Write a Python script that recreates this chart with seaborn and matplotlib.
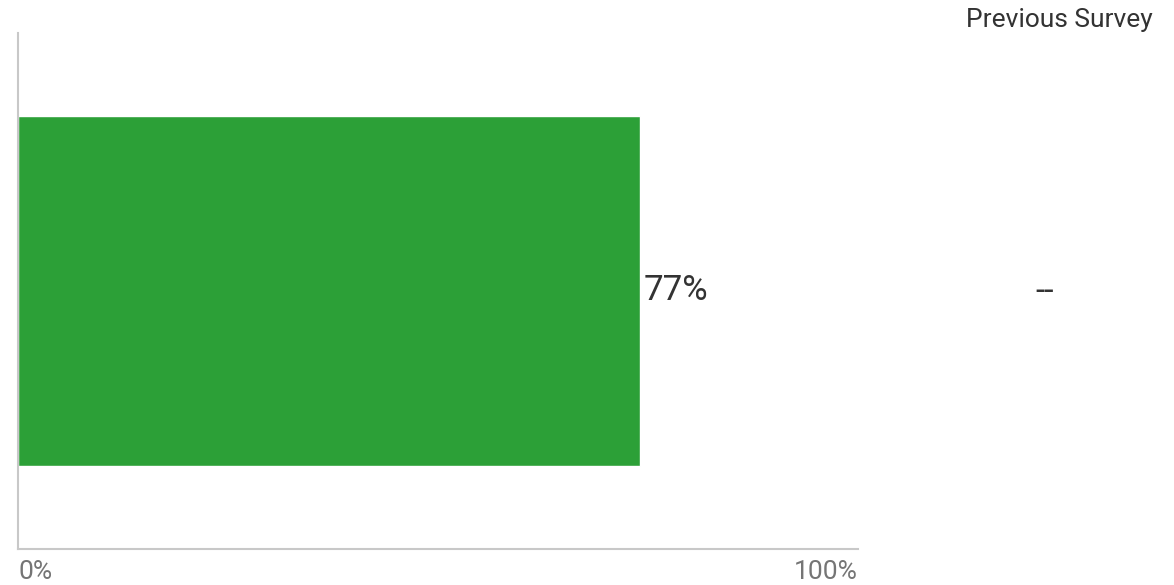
import matplotlib
matplotlib.use("Agg")
import matplotlib.pyplot as plt
import seaborn as sns
import pandas as pd

categories = ["Current Survey"]
values = [77]
value_labels = ["77%"]
previous_labels = ["--"]
tick_labels = ["0%", "100%"]

sns.set_style("white")
plt.rcParams["font.family"] = ["Roboto", "DejaVu Sans"]

df = pd.DataFrame({"category": categories, "value": values})

fig = plt.figure(figsize=(11.74, 5.85), dpi=100)
ax = fig.add_axes([18/1174, 1 - 549/585, 840/1174, 516/585])

sns.barplot(data=df, x="value", y="category", orient="h", color="#2ca037",
            saturation=1, width=0.8, ax=ax)

xmax = 104
ax.set_xlim(0, xmax)
ax.set_ylim(0.59, -0.59)

ax.set_xticks([0, xmax])
ax.set_xticklabels(tick_labels, fontsize=19, color="#757575")
labs = ax.get_xticklabels()
labs[0].set_ha("left")
labs[1].set_ha("right")
ax.tick_params(axis="x", length=0, pad=8)
ax.set_yticks([])
ax.set_xlabel("")
ax.set_ylabel("")

for s in ["top", "right"]:
    ax.spines[s].set_visible(False)
for s in ["left", "bottom"]:
    ax.spines[s].set_color("#c8c8c8")
    ax.spines[s].set_linewidth(1.5)

for i, (v, lab) in enumerate(zip(values, value_labels)):
    ax.text(v + 0.4, i, lab, va="center", ha="left", fontsize=25, color="#333333")

for i, lab in enumerate(previous_labels):
    fig.text(1045/1174, 1 - 292/585, lab, ha="center", va="center", fontsize=24, color="#333333")

fig.text(1059/1174, 1 - 20/585, "Previous Survey", ha="center", va="center", fontsize=19, color="#333333")

fig.savefig("out.png", dpi=100)
